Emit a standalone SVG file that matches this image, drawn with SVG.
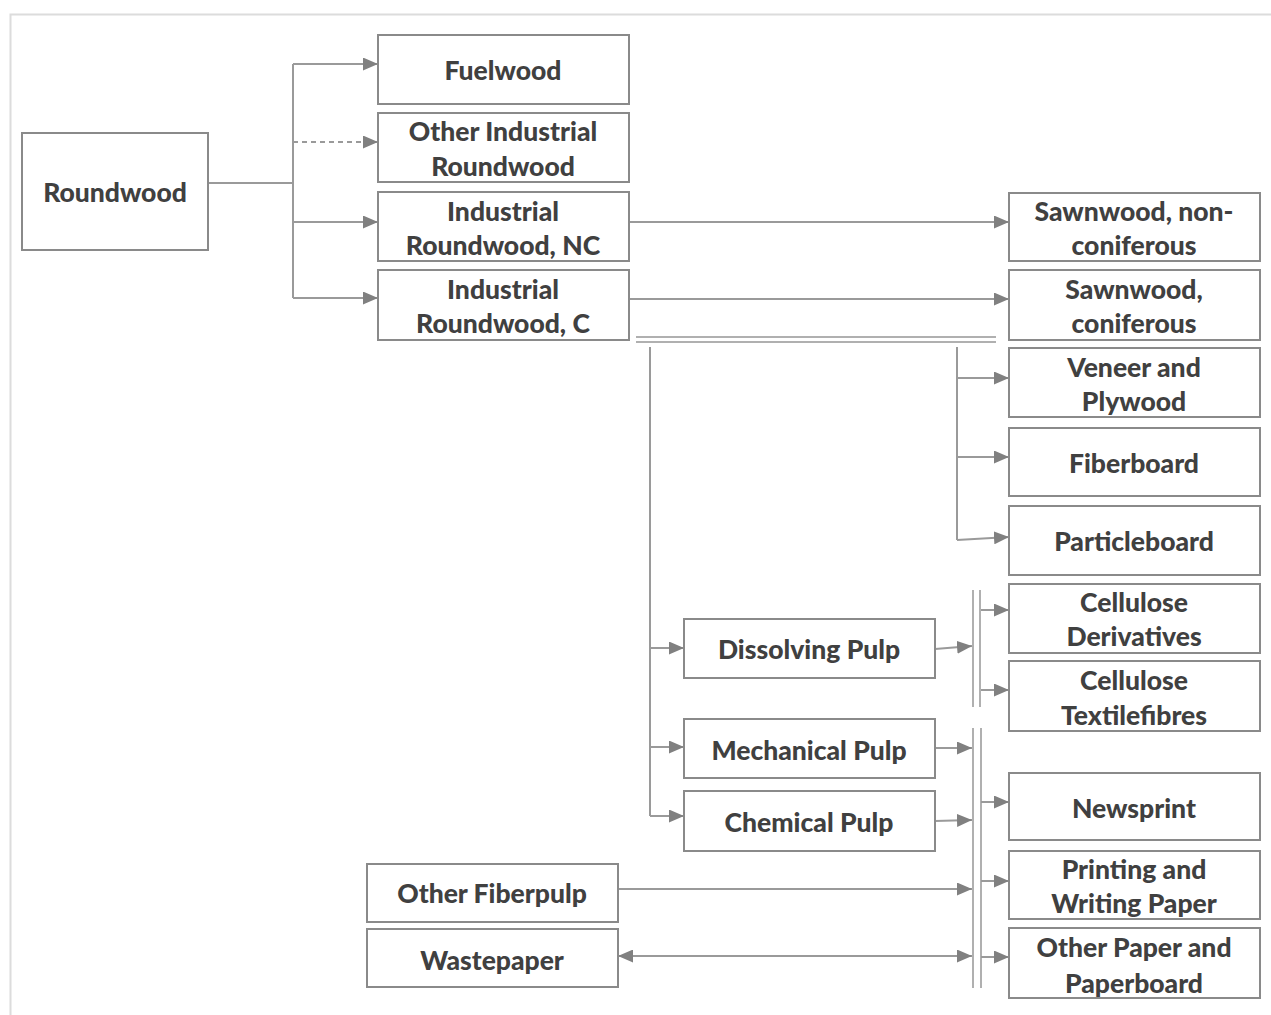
<svg xmlns="http://www.w3.org/2000/svg" width="1271" height="1015" viewBox="0 0 1271 1015">
<defs>
<marker id="arr" markerWidth="15" markerHeight="13" refX="15" refY="6.5" orient="auto-start-reverse" markerUnits="userSpaceOnUse">
<path d="M0,0 L15,6.5 L0,13 z" fill="#808080"/>
</marker>
<style>
.box{fill:#fff;stroke:#8a8a8a;stroke-width:2}
.t{font-family:Lato,"Open Sans","Liberation Sans",sans-serif;font-weight:900;font-size:26.5px;fill:#404040;text-anchor:middle;dominant-baseline:central}
.c{fill:none;stroke:#9a9a9a;stroke-width:2}
.a{marker-end:url(#arr)}
.bar{fill:none;stroke:#b0b0b0;stroke-width:2}
</style>
</defs>
<rect width="1271" height="1015" fill="#fff"/>
<path d="M10.5,1015 V14.5 H1271" fill="none" stroke="#dcdcdc" stroke-width="2"/>

<g id="connectors">
<path class="c" d="M208,183 H293 M293,64 V298"/>
<path class="c a" d="M293,64 H378"/>
<path class="c a" d="M293,142 H378" stroke-dasharray="5,4"/>
<path class="c a" d="M293,222 H378"/>
<path class="c a" d="M293,298 H378"/>
<path class="c a" d="M629,222 H1009"/>
<path class="c a" d="M629,299 H1009"/>
<path class="bar" d="M636,337 H996 M636,342 H996"/>
<path class="c" d="M957,347 V540"/>
<path class="c a" d="M957,378 H1009"/>
<path class="c a" d="M957,457 H1009"/>
<path class="c a" d="M957,540 L1009,537"/>
<path class="c" d="M650,347 V816"/>
<path class="c a" d="M650,648 H684"/>
<path class="c a" d="M650,747 H684"/>
<path class="c a" d="M650,816 H684"/>
<path class="c a" d="M935,649 L972,646"/>
<path class="bar" d="M973,590 V707 M980,590 V707"/>
<path class="c a" d="M981,610 H1009"/>
<path class="c a" d="M981,690 H1009"/>
<path class="c a" d="M935,748 H972"/>
<path class="c a" d="M935,821 L972,820"/>
<path class="c a" d="M618,889 H972"/>
<path class="c a" d="M618,956 H972" style="marker-start:url(#arr)"/>
<path class="bar" d="M973,728 V988 M981,728 V988"/>
<path class="c a" d="M981,802 H1009"/>
<path class="c a" d="M981,881 H1009"/>
<path class="c a" d="M981,957 H1009"/>
</g>

<g id="roundwood"><rect class="box" x="22" y="133" width="186" height="117"/><text class="t" x="115" y="192">Roundwood</text></g>
<g id="fuelwood"><rect class="box" x="378" y="35" width="251" height="69"/><text class="t" x="503" y="70">Fuelwood</text></g>
<g id="other-industrial-roundwood"><rect class="box" x="378" y="113" width="251" height="69"/><text class="t" x="503" y="131">Other Industrial</text><text class="t" x="503" y="166">Roundwood</text></g>
<g id="industrial-roundwood-nc"><rect class="box" x="378" y="192" width="251" height="69"/><text class="t" x="503" y="211">Industrial</text><text class="t" x="503" y="245">Roundwood, NC</text></g>
<g id="industrial-roundwood-c"><rect class="box" x="378" y="270" width="251" height="70"/><text class="t" x="503" y="289">Industrial</text><text class="t" x="503" y="323">Roundwood, C</text></g>

<g id="sawnwood-nc"><rect class="box" x="1009" y="193" width="251" height="68"/><text class="t" x="1134" y="211">Sawnwood, non-</text><text class="t" x="1134" y="245">coniferous</text></g>
<g id="sawnwood-c"><rect class="box" x="1009" y="270" width="251" height="70"/><text class="t" x="1134" y="289">Sawnwood,</text><text class="t" x="1134" y="323">coniferous</text></g>
<g id="veneer"><rect class="box" x="1009" y="348" width="251" height="69"/><text class="t" x="1134" y="367">Veneer and</text><text class="t" x="1134" y="401">Plywood</text></g>
<g id="fiberboard"><rect class="box" x="1009" y="428" width="251" height="68"/><text class="t" x="1134" y="463">Fiberboard</text></g>
<g id="particleboard"><rect class="box" x="1009" y="506" width="251" height="69"/><text class="t" x="1134" y="541">Particleboard</text></g>
<g id="cellulose-derivatives"><rect class="box" x="1009" y="584" width="251" height="69"/><text class="t" x="1134" y="602">Cellulose</text><text class="t" x="1134" y="636">Derivatives</text></g>
<g id="cellulose-textilefibres"><rect class="box" x="1009" y="661" width="251" height="70"/><text class="t" x="1134" y="680">Cellulose</text><text class="t" x="1134" y="715">Textilefibres</text></g>
<g id="newsprint"><rect class="box" x="1009" y="773" width="251" height="67"/><text class="t" x="1134" y="808">Newsprint</text></g>
<g id="printing-paper"><rect class="box" x="1009" y="851" width="251" height="68"/><text class="t" x="1134" y="869">Printing and</text><text class="t" x="1134" y="903">Writing Paper</text></g>
<g id="other-paper"><rect class="box" x="1009" y="928" width="251" height="70"/><text class="t" x="1134" y="947">Other Paper and</text><text class="t" x="1134" y="983">Paperboard</text></g>

<g id="dissolving-pulp"><rect class="box" x="684" y="619" width="251" height="59"/><text class="t" x="809" y="649">Dissolving Pulp</text></g>
<g id="mechanical-pulp"><rect class="box" x="684" y="719" width="251" height="59"/><text class="t" x="809" y="750">Mechanical Pulp</text></g>
<g id="chemical-pulp"><rect class="box" x="684" y="791" width="251" height="60"/><text class="t" x="809" y="822">Chemical Pulp</text></g>
<g id="other-fiberpulp"><rect class="box" x="367" y="864" width="251" height="58"/><text class="t" x="492" y="893">Other Fiberpulp</text></g>
<g id="wastepaper"><rect class="box" x="367" y="929" width="251" height="58"/><text class="t" x="492" y="960">Wastepaper</text></g>
</svg>
